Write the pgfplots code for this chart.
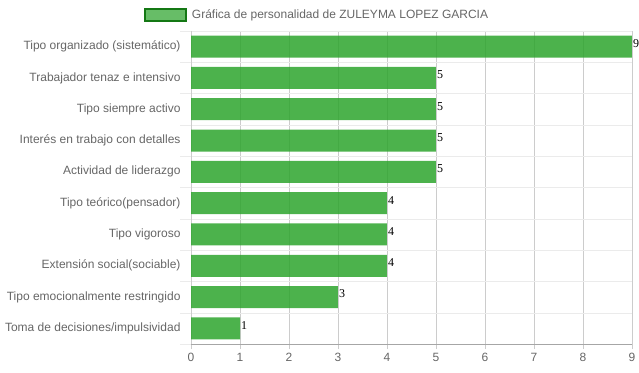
\documentclass[border=0pt]{standalone}
\usepackage{pgfplots}
\pgfplotsset{compat=1.18}
\usepackage{fontspec}
\setmainfont{Liberation Sans}
\newfontfamily\valfont{Liberation Serif}
\definecolor{bargreen}{RGB}{45,165,45}
\definecolor{legfill}{RGB}{76,178,76}
\definecolor{legborder}{RGB}{20,120,20}
\definecolor{txt}{RGB}{102,102,102}
\begin{document}
\begin{tikzpicture}
\begin{axis}[
  at={(191pt,28pt)}, anchor=south west,
  scale only axis, width=441pt, height=313pt,
  xbar, bar width=22pt,
  xmin=0, xmax=9, ymin=-0.5, ymax=9.5, y dir=reverse,
  xtick={0,...,9}, ytick={0,...,9},
  /pgf/number format/assume math mode=true,
  yticklabels={Tipo organizado (sistemático),Trabajador tenaz e intensivo,Tipo siempre activo,Interés en trabajo con detalles,Actividad de liderazgo,Tipo teórico(pensador),Tipo vigoroso,Extensión social(sociable),Tipo emocionalmente restringido,Toma de decisiones/impulsividad},
  minor ytick={-0.5,0.5,...,9.5},
  xmajorgrids, yminorgrids,
  major grid style={draw=black!20},
  minor grid style={draw=black!8},
  axis x line*=bottom, axis y line*=left,
  x axis line style={draw=black!35,-},
  y axis line style={draw=black!20,-},
  tick label style={font=\fontsize{12}{14}\selectfont, text=txt},
  xticklabel style={yshift=-1pt},
  yticklabel style={xshift=-2pt},
  major tick length=5pt, minor tick length=11pt,
  tick align=outside,
  major x tick style={draw=black!20},
  major y tick style={draw=none},
  minor y tick style={draw=black!8},
  nodes near coords,
  nodes near coords style={font=\valfont\fontsize{12}{14}\selectfont, anchor=west, inner sep=0pt, xshift=1pt, yshift=3pt, text=black, text opacity=1},
  legend style={at={(0.2857,1.051)}, anchor=center, draw=none, fill=none, font=\fontsize{12}{14}\selectfont, text=txt},
  legend image code/.code={\draw[fill=legfill, draw=legborder, line width=2pt] (0pt,-6pt) rectangle (41pt,6pt);},
]
\addplot[fill=bargreen, fill opacity=0.85, draw=none] coordinates {(9,0) (5,1) (5,2) (5,3) (5,4) (4,5) (4,6) (4,7) (3,8) (1,9)};
\addlegendentry{\hspace{3pt}Gráfica de personalidad de ZULEYMA LOPEZ GARCIA}
\end{axis}
\pgfresetboundingbox
\path[use as bounding box] (0,0) rectangle (639pt,372pt);
\end{tikzpicture}
\end{document}
